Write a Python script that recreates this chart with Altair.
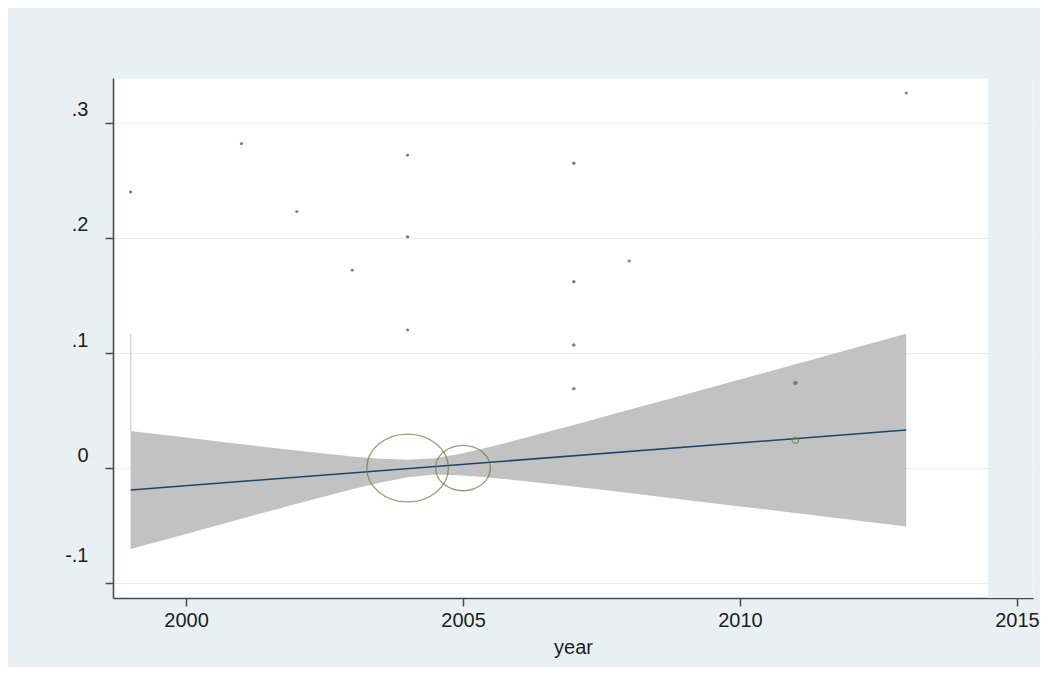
import altair as alt
import pandas as pd

# ---- data ----
study_year = [1999, 2001, 2002, 2003, 2004, 2004, 2004, 2004, 2005,
              2007, 2007, 2007, 2007, 2008, 2011, 2011, 2013]
effect = [0.240, 0.282, 0.223, 0.172, 0.272, 0.201, 0.120, 0.000, 0.000,
          0.265, 0.162, 0.107, 0.069, 0.180, 0.074, 0.024, 0.326]
weight = [0.06, 0.06, 0.06, 0.06, 0.06, 0.08, 0.06, 100.0, 45.0,
          0.08, 0.08, 0.08, 0.08, 0.06, 0.20, 0.63, 0.05]

fit_year = [1999, 2013]
fit_value = [-0.0191, 0.0330]

band_year = [1999, 2000, 2001, 2002, 2003, 2003.5, 2004, 2004.5, 2005, 2005.5,
             2006, 2007, 2008, 2009, 2010, 2011, 2012, 2013]
band_upper = [0.0321, 0.0265, 0.0207, 0.0153, 0.0101, 0.0081, 0.0071, 0.0085, 0.0129, 0.0186,
              0.0248, 0.0375, 0.0506, 0.0638, 0.0770, 0.0903, 0.1035, 0.1168]
band_lower = [-0.0703, -0.0573, -0.0441, -0.0311, -0.0185, -0.0127, -0.0081, -0.0057, -0.0065, -0.0084,
              -0.0108, -0.0161, -0.0218, -0.0276, -0.0334, -0.0391, -0.0449, -0.0508]

edge_year = [1999]
edge_top = [0.1168]
edge_bottom = [0.0321]

x_ticks = [2000, 2005, 2010, 2015]
y_ticks = [-0.1, 0.0, 0.1, 0.2, 0.3]
x_domain = [1998.682, 2015.289]
y_domain = [-0.1130, 0.3391]
plot_region_end = 2014.476

BG = "#e9f0f3"
FONT = "Liberation Sans"

pts = pd.DataFrame({"year": study_year, "effect": effect, "weight": weight})
fit = pd.DataFrame({"year": fit_year, "value": fit_value})
band = pd.DataFrame({"year": band_year, "upper": band_upper, "lower": band_lower})
edge = pd.DataFrame({"year": edge_year, "top": edge_top, "bottom": edge_bottom})
outside = pd.DataFrame({"x1": [plot_region_end], "x2": [x_domain[1]],
                        "y1": [y_domain[0]], "y2": [y_domain[1]]})

xscale = alt.Scale(domain=x_domain, nice=False, zero=False)
yscale = alt.Scale(domain=y_domain, nice=False, zero=False)

xaxis = alt.Axis(values=x_ticks, format="d", title="year", grid=False,
                 labelFontSize=20, titleFontSize=20, titleFontWeight="normal",
                 labelFont=FONT, titleFont=FONT, labelColor="#1e1e1e", titleColor="#1e1e1e",
                 labelPadding=4, titlePadding=7, tickSize=8, tickWidth=1.5, tickColor="#4a4a4a",
                 domainColor="#4a4a4a", domainWidth=1.6, labelFlush=False)
yaxis = alt.Axis(values=y_ticks, title=None, grid=True, gridColor="#e6eef1", gridWidth=1.2,
                 labelExpr="datum.value == 0 ? '0' : replace(replace(format(datum.value, '.1f'), '0.', '.'), '\u2212', '-')",
                 labelFontSize=20, labelFont=FONT, labelColor="#1e1e1e",
                 labelAlign="right", labelBaseline="middle", labelPadding=17,
                 labelOffset={"condition": {"test": "datum.value < -0.05", "value": -28}, "value": -13},
                 tickSize=8, tickWidth=1.5, tickColor="#4a4a4a",
                 domainColor="#4a4a4a", domainWidth=1.6, labelFlush=False)

outside_rect = alt.Chart(outside).mark_rect(color=BG).encode(
    x=alt.X("x1:Q", scale=xscale, axis=xaxis),
    x2="x2:Q",
    y=alt.Y("y1:Q", scale=yscale, axis=yaxis),
    y2="y2:Q",
)

band_area = alt.Chart(band).mark_area(color="#c2c2c2", opacity=1).encode(
    x=alt.X("year:Q", scale=xscale),
    y=alt.Y("upper:Q", scale=yscale),
    y2="lower:Q",
)

edge_rule = alt.Chart(edge).mark_rule(color="#d4d4d4", strokeWidth=1.5).encode(
    x=alt.X("year:Q", scale=xscale),
    y=alt.Y("top:Q", scale=yscale),
    y2="bottom:Q",
)

fit_line = alt.Chart(fit).mark_line(color="#1a476f", strokeWidth=1.6).encode(
    x=alt.X("year:Q", scale=xscale),
    y=alt.Y("value:Q", scale=yscale),
)

ellipse = "M -1 0 A 1 0.83 0 1 1 1 0 A 1 0.83 0 1 1 -1 0 Z"
bubbles = alt.Chart(pts).mark_point(shape=ellipse, filled=False, strokeWidth=1.3).encode(
    x=alt.X("year:Q", scale=xscale),
    y=alt.Y("effect:Q", scale=yscale),
    size=alt.Size("weight:Q", scale=alt.Scale(domain=[0, 100], range=[0, 6659], zero=True), legend=None),
    stroke=alt.condition(alt.datum.weight < 0.15, alt.value("#4a4a4a"), alt.value("#6b7a3e")),
    fill=alt.condition(alt.datum.weight < 0.5, alt.value("#4f5246"), alt.value("transparent")),
)

chart = alt.layer(outside_rect, band_area, edge_rule, fit_line, bubbles).properties(
    width=920, height=520,
    padding={"left": 105, "top": 70, "right": 7, "bottom": 69},
    autosize=alt.AutoSizeParams(type="none"),
    background=BG,
).configure_view(fill="white", stroke="transparent")

chart.save("out.html", embed_options={"renderer": "svg", "actions": False})
